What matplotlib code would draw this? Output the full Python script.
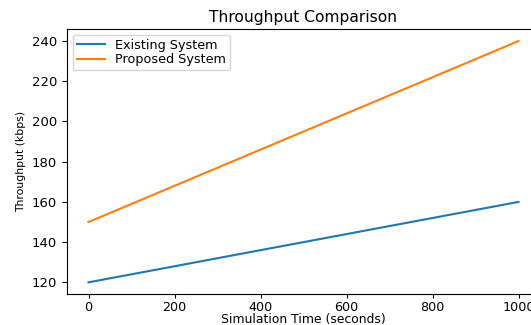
import matplotlib
matplotlib.use("Agg")
import matplotlib.pyplot as plt

time_s = [0, 1000]
existing = [120, 160]
proposed = [150, 240]
series_labels = ["Existing System", "Proposed System"]

fig = plt.figure(figsize=(5.31, 3.25), dpi=100)
ax = fig.add_axes([67/531, 1-294/325, (540-67)/531, (294-29)/325])
ax.plot(time_s, existing, color="#1f77b4", label=series_labels[0])
ax.plot(time_s, proposed, color="#ff7f0e", label=series_labels[1])
ax.set_xlim(-50, 1050)
ax.set_ylim(114.2, 246)
ax.set_xticks([0, 200, 400, 600, 800, 1000])
ax.set_yticks([120, 140, 160, 180, 200, 220, 240])
ax.tick_params(labelsize=9.5)
ax.tick_params(axis="x", labelsize=9.2, pad=2.0, length=3.2)
ax.set_title("Throughput Comparison", fontsize=11.2, pad=5)
ax.set_xlabel("Simulation Time (seconds)", fontsize=8.9, labelpad=-0.8)
ax.set_ylabel("Throughput (kbps)", fontsize=7.8, labelpad=4)
ax.legend(loc="upper left", fontsize=9.2, handlelength=2.2,
          labelspacing=0.15, borderpad=0.3, borderaxespad=0.45)
fig.savefig("out.png", dpi=100)
